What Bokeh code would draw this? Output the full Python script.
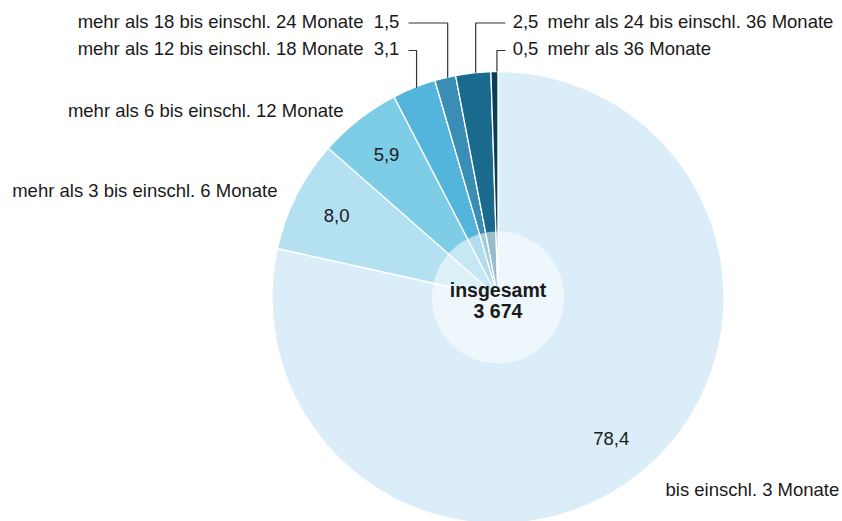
import numpy as np
from bokeh.plotting import figure
from bokeh.models import Range1d, ColumnDataSource
from bokeh.core.properties import value
from bokeh.embed import file_html
from bokeh.resources import INLINE

# ---------------- data ----------------
categories = [
    "bis einschl. 3 Monate",
    "mehr als 3 bis einschl. 6 Monate",
    "mehr als 6 bis einschl. 12 Monate",
    "mehr als 12 bis einschl. 18 Monate",
    "mehr als 18 bis einschl. 24 Monate",
    "mehr als 24 bis einschl. 36 Monate",
    "mehr als 36 Monate",
]
shares = [78.4, 8.0, 5.9, 3.1, 1.5, 2.5, 0.5]
total_title = "insgesamt"
total_value = "3 674"

# ---------------- style ----------------
colors = ["#daedf8", "#b3e1f2", "#7ecde7", "#53b4dc", "#3a8db4", "#1a6a8e", "#0b3d5b"]
FONT = "Liberation Sans"
FS = "18.5px"
TXT = "#1a1a1a"

W, H = 842, 521
# data coordinates: x = page x, y = 521 - page y
cx, cy = 497.5, 224.0
R = 226.0
R_IN = 66.0
R_LAB = 181.0

def fmt(v):
    return f"{v:.1f}".replace(".", ",")

# text vertical centres (page y)
def ty(page_y):
    return H - page_y

frac = np.array(shares) / sum(shares)
cum = np.cumsum(frac)
prev = cum - frac
start = np.pi / 2 - 2 * np.pi * cum
end = np.pi / 2 - 2 * np.pi * prev
mid = (start + end) / 2

p = figure(width=W, height=H, x_range=Range1d(0, W), y_range=Range1d(0, H),
           output_backend="svg", toolbar_location=None, min_border=0,
           x_axis_type=None, y_axis_type=None, outline_line_color=None,
           background_fill_color="white", border_fill_color="white")
p.grid.visible = False

src = ColumnDataSource(dict(start=start, end=end, color=colors, cat=categories))
p.wedge(x=cx, y=cy, radius=R, start_angle="start", end_angle="end", direction="anticlock",
        fill_color="color", line_color="white", line_width=1.3, source=src)

# inner translucent disc
p.circle(x=[cx], y=[cy], radius=R_IN, fill_color="white", fill_alpha=0.55, line_color=None)

# values inside the three largest slices
inside = [0, 1, 2]
p.text(x=[cx + R_LAB * np.cos(mid[i]) for i in inside],
       y=[cy + R_LAB * np.sin(mid[i]) for i in inside],
       text=[fmt(shares[i]) for i in inside],
       text_font=value(FONT), text_font_size=FS, text_color=TXT,
       text_align="center", text_baseline="middle")

# center total
p.text(x=[cx, cx], y=[ty(289.5), ty(310.5)], text=[total_title, total_value],
       text_font=value(FONT), text_font_size="19.5px", text_font_style="bold",
       text_color=TXT, text_align="center", text_baseline="middle")

# category labels without leader lines
p.text(x=[665], y=[ty(488.5)], text=[categories[0]], text_font=value(FONT),
       text_font_size=FS, text_color=TXT, text_align="left", text_baseline="middle")
p.text(x=[277, 343], y=[ty(189.5), ty(109.5)], text=[categories[1], categories[2]],
       text_font=value(FONT), text_font_size=FS, text_color=TXT,
       text_align="right", text_baseline="middle")

# labels with leader lines
row_text = {4: 21.0, 3: 48.0, 5: 21.0, 6: 48.0}
row_line = {4: 22.5, 3: 50.0, 5: 22.5, 6: 50.0}
left_idx = [4, 3]
right_idx = [5, 6]
p.text(x=[363] * 2, y=[ty(row_text[i]) for i in left_idx], text=[categories[i] for i in left_idx],
       text_font=value(FONT), text_font_size=FS, text_color=TXT,
       text_align="right", text_baseline="middle")
p.text(x=[386] * 2, y=[ty(row_text[i]) for i in left_idx], text=[fmt(shares[i]) for i in left_idx],
       text_font=value(FONT), text_font_size=FS, text_color=TXT,
       text_align="center", text_baseline="middle")
p.text(x=[547] * 2, y=[ty(row_text[i]) for i in right_idx], text=[categories[i] for i in right_idx],
       text_font=value(FONT), text_font_size=FS, text_color=TXT,
       text_align="left", text_baseline="middle")
p.text(x=[525] * 2, y=[ty(row_text[i]) for i in right_idx], text=[fmt(shares[i]) for i in right_idx],
       text_font=value(FONT), text_font_size=FS, text_color=TXT,
       text_align="center", text_baseline="middle")

xs, ys = [], []
for i in left_idx + right_idx:
    ex = cx + R * np.cos(mid[i]) + 2.5
    ey = cy + R * np.sin(mid[i])
    ly = H - row_line[i]
    hx = 408 if i in left_idx else 505
    xs.append([ex, ex, hx])
    ys.append([ey, ly, ly])
p.multi_line(xs=xs, ys=ys, line_color="#333333", line_width=1.2)

open("out.html", "w").write(file_html(p, INLINE))
